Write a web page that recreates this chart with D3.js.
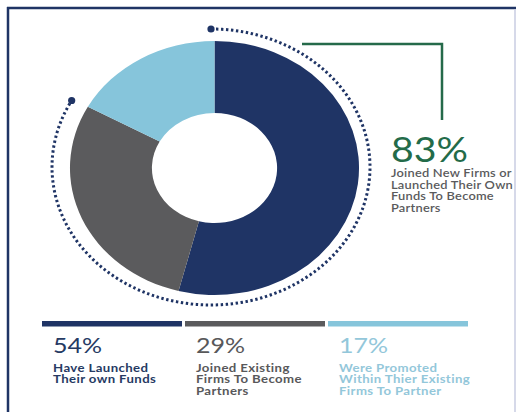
<!DOCTYPE html>
<html>
<head>
<meta charset="utf-8">
<script src="https://cdn.jsdelivr.net/npm/d3@7/dist/d3.min.js"></script>
<style>
  html, body { margin: 0; padding: 0; background: #ffffff; }
  svg { display: block; }
  text { font-family: Lato, "Open Sans", sans-serif; }
</style>
</head>
<body>
<svg id="chart" width="518" height="412"></svg>
<script>
// Career paths to partner
const categories = ["launched", "existing", "promoted"];
const values = [54, 29, 17];
const colors = ["#1f3465", "#5b5b5d", "#86c5db"];
const labelColors = ["#263a63", "#58585a", "#93c7da"];
const valueLabels = ["54%", "29%", "17%"];
const descriptions = [
  ["Have Launched", "Their own Funds"],
  ["Joined Existing", "Firms To Become", "Partners"],
  ["Were Promoted", "Within Thier Existing", "Firms To Partner"]
];
const highlightLabel = "83%";
const highlightText = ["Joined New Firms or", "Launched Their Own", "Funds To Become", "Partners"];

const svg = d3.select("#chart");
const sx = 1.138; // horizontal stretch of the whole layout

// frame
svg.append("line").attr("x1", 7).attr("x2", 516).attr("y1", 8).attr("y2", 8)
  .attr("stroke", "#1f3465").attr("stroke-width", 2.5);
svg.append("line").attr("x1", 8).attr("x2", 8).attr("y1", 7).attr("y2", 412)
  .attr("stroke", "#1f3465").attr("stroke-width", 2.5);
svg.append("line").attr("x1", 515).attr("x2", 515).attr("y1", 9).attr("y2", 412)
  .attr("stroke", "#c9cde2").attr("stroke-width", 1.5);

// donut (drawn as a circle and stretched horizontally)
const cx = 214.5, cy = 168;
const outerR = 127, innerR = 55;
const pie = d3.pie().sort(null).value(d => d);
const arcs = pie(values);
const arc = d3.arc().innerRadius(innerR).outerRadius(outerR);

const donut = svg.append("g")
  .attr("transform", `translate(${cx},${cy}) scale(${sx},1)`);
donut.selectAll("path.slice")
  .data(arcs)
  .join("path")
  .attr("class", "slice")
  .attr("d", arc)
  .attr("fill", (d, i) => colors[i]);

// dotted arc spanning the combined first two shares
const combined = values[0] + values[1];
const total = d3.sum(values);
const endAngle = 2 * Math.PI * combined / total;
const dcx = 211, dcy = 167, drx = 159, dry = 138;
const angles = d3.range(0, 1.0001, 1 / 300).map(t => t * endAngle);
const dotted = d3.line()
  .x(a => dcx + drx * Math.sin(a))
  .y(a => dcy - dry * Math.cos(a));
svg.append("path")
  .attr("d", dotted(angles))
  .attr("fill", "none")
  .attr("stroke", "#1f3465")
  .attr("stroke-width", 3)
  .attr("stroke-dasharray", "2.4,2.6");
[0, endAngle].forEach(a => {
  svg.append("circle")
    .attr("cx", dcx + drx * Math.sin(a))
    .attr("cy", dcy - dry * Math.cos(a))
    .attr("r", 3.6)
    .attr("fill", "#1f3465");
});

// connector to the highlight figure
svg.append("path")
  .attr("d", "M302,44 H442 V120")
  .attr("fill", "none")
  .attr("stroke", "#256a4a")
  .attr("stroke-width", 2.5);

const hi = svg.append("g").attr("transform", `translate(391,0) scale(${sx},1)`);
hi.append("text")
  .attr("x", 0).attr("y", 162)
  .attr("font-size", 34.5)
  .attr("fill", "#236b49")
  .text(highlightLabel);
const ht = hi.append("text")
  .attr("x", 0).attr("y", 177)
  .attr("font-size", 11.3)
  .attr("font-weight", 600)
  .attr("letter-spacing", 0.2)
  .attr("fill", "#5a5a5c");
highlightText.forEach((t, i) => {
  ht.append("tspan").attr("x", 0).attr("dy", i === 0 ? 0 : 11.7).text(t);
});

// bottom legend columns
const xBand = d3.scaleBand()
  .domain(categories)
  .range([42, 468])
  .paddingInner(0.021);

const cols = svg.selectAll("g.col")
  .data(categories)
  .join("g")
  .attr("class", "col")
  .attr("transform", d => `translate(${xBand(d)},0)`);

cols.append("rect")
  .attr("x", 0).attr("y", 321)
  .attr("width", xBand.bandwidth())
  .attr("height", 5.5)
  .attr("fill", (d, i) => colors[i]);

const colText = cols.append("g")
  .attr("transform", `translate(11,0) scale(${sx},1)`);

colText.append("text")
  .attr("x", 0).attr("y", 353)
  .attr("font-size", 22)
  .attr("fill", (d, i) => labelColors[i])
  .text((d, i) => valueLabels[i]);

colText.append("text")
  .attr("x", 0).attr("y", 372)
  .attr("font-size", 11.6)
  .attr("font-weight", 700)
  .attr("letter-spacing", 0.35)
  .attr("fill", (d, i) => labelColors[i])
  .each(function (d, i) {
    const t = d3.select(this);
    descriptions[i].forEach((line, j) => {
      t.append("tspan").attr("x", 0).attr("dy", j === 0 ? 0 : 11.4).text(line);
    });
  });
</script>
</body>
</html>
